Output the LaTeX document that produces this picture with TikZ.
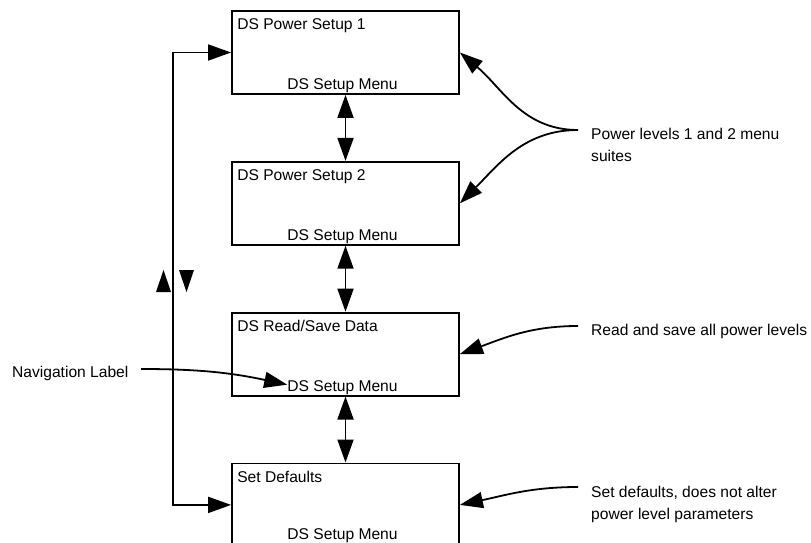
\documentclass[tikz,border=0pt]{standalone}
\usepackage{fontspec}
\setmainfont{Liberation Sans}
\usetikzlibrary{positioning,arrows.meta}

\begin{document}
\begin{tikzpicture}[x=1pt, y=-1pt,
  menubox/.style={draw, line width=1.8pt, minimum width=227pt, minimum height=83pt, inner sep=0pt},
  txt/.style={font=\fontsize{15.6}{22}\selectfont, inner sep=0pt},
  note/.style={txt, align=left, anchor=north west},
  link/.style={line width=1.8pt, -{Triangle[length=23pt,width=16pt]}},
  dlink/.style={line width=1.8pt, {Triangle[length=23pt,width=16pt]}-{Triangle[length=23pt,width=16pt]}}]
\useasboundingbox (0,0) rectangle (811,543);
\node[menubox] (box1) at (345.5,52.5) {};
\node[menubox, below=66pt of box1] (box2) {};
\node[menubox, below=66pt of box2] (box3) {};
\node[menubox, below=66pt of box3] (box4) {};
\node[txt, anchor=base west] (title1) at ([shift={(6pt,-19.5pt)}]box1.north west) {DS Power Setup 1};
\node[txt, anchor=base west] (title2) at ([shift={(6pt,-19.5pt)}]box2.north west) {DS Power Setup 2};
\node[txt, anchor=base west] (title3) at ([shift={(6pt,-19.5pt)}]box3.north west) {DS Read/Save Data};
\node[txt, anchor=base west] (title4) at ([shift={(6pt,-19.5pt)}]box4.north west) {Set Defaults};
\node[txt, anchor=base] (menu1) at ([shift={(-3pt,5pt)}]box1.south) {DS Setup Menu};
\node[txt, anchor=base] (menu2) at ([shift={(-3pt,5pt)}]box2.south) {DS Setup Menu};
\node[txt, anchor=base] (menu3) at ([shift={(-3pt,5pt)}]box3.south) {DS Setup Menu};
\node[txt, anchor=base] (menu4) at ([shift={(-3pt,8pt)}]box4.south) {DS Setup Menu};
\node[note] (pwrnote) at (591,128) {Power levels 1 and 2 menu\\suites};
\node[note] (readnote) at (591,323.5) {Read and save all power levels};
\node[note] (defnote) at (591,486) {Set defaults, does not alter\\power level parameters};
\node[txt, anchor=base west] (navlabel) at (12,377) {Navigation Label};
\coordinate (pwrfrom) at (578,130);
\coordinate (readfrom) at (578,326);
\coordinate (deffrom) at (578,487);
\coordinate (navfrom) at (141,369);
\draw[dlink] (box1.south) -- (box2.north);
\draw[dlink] (box2.south) -- (box3.north);
\draw[dlink] (box3.south) -- (box4.north);
\draw[dlink] (box4.west) -- ++(-58pt,0) |- (box1.west);
\fill (156,292) -- (163.5,270) -- (171,292) -- cycle;
\fill (179,270) -- (194,270) -- (186.5,292) -- cycle;
\draw[link] (pwrfrom) to[out=180,in=-40] (box1.east);
\draw[link] (pwrfrom) to[out=180,in=45] (box2.east);
\draw[link] (readfrom) to[out=180,in=20] (box3.east);
\draw[link] (deffrom) to[out=180,in=12] (box4.east);
\draw[link] (navfrom) to[out=0,in=168] ([yshift=3pt]menu3.west);
\end{tikzpicture}
\end{document}
